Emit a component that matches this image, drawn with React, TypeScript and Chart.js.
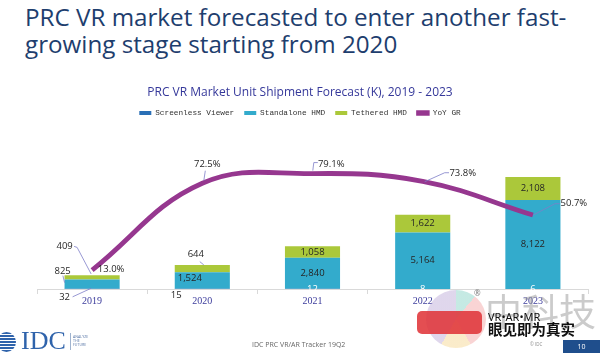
import React, { useEffect, useRef } from "react";
import { Chart, registerables } from "chart.js";
Chart.register(...registerables);

// ---- data ----
const years = ["2019", "2020", "2021", "2022", "2023"];
const screenlessViewer = [32, 15, 12, 8, 6];
const standaloneHMD = [825, 1524, 2840, 5164, 8122];
const tetheredHMD = [409, 644, 1058, 1622, 2108];
const yoyGrowth = [13.0, 72.5, 79.1, 73.8, 50.7];

const seriesNames = ["Screenless Viewer", "Standalone HMD", "Tethered HMD", "YoY GR"];
const seriesColors = ["#2a6fb6", "#33abcc", "#abc83a", "#96378f"];

// label callouts (offsets relative to segment centre / line point)
type Callout = { dx: number; dy: number; lead?: number[][] };
const barCallouts: Record<string, Callout> = {
  "0-0": { dx: -27.5, dy: 8.2, lead: [[-19.5, 8], [-1, -0.5]] },
  "0-1": { dx: -26, dy: 6 },
  "1-0": { dx: -29.5, dy: -12.5, lead: [[-29.2, -8.5], [-27.5, -1.5]] },
  "1-1": { dx: -12.5, dy: -2.6 },
  "2-0": { dx: -27.5, dy: -30.7, lead: [[-18, -31], [-15, -30], [-1, -3.5]] },
  "2-1": { dx: -6.5, dy: -14.7, lead: [[-2.5, -7], [1.5, -3.7]] },
};
const lineCallouts: Callout[] = [
  { dx: 19, dy: -0.5 },
  { dx: 5, dy: -19, lead: [[3, -12.5], [1.5, -2.5]] },
  { dx: 18.7, dy: -9.6, lead: [[5.3, -11], [1.3, -11], [0.3, -3]] },
  { dx: 40, dy: -8.3, lead: [[26.3, -8.6], [22, -8.6], [2, 0.4]] },
  { dx: 41, dy: -11.3, lead: [[27, -11.3], [22, -11.3], [0.3, 0]] },
];

const LABEL_FONT = '9.5px "Open Sans"';
const LEAD_COLOR = "#7d7dc8";

function drawLead(ctx: CanvasRenderingContext2D, x: number, y: number, pts?: number[][]) {
  if (!pts) return;
  ctx.save();
  ctx.strokeStyle = LEAD_COLOR;
  ctx.lineWidth = 0.8;
  ctx.beginPath();
  pts.forEach((p, i) => (i === 0 ? ctx.moveTo(x + p[0], y + p[1]) : ctx.lineTo(x + p[0], y + p[1])));
  ctx.stroke();
  ctx.restore();
}

const labelsPlugin = {
  id: "valueLabels",
  afterDatasetsDraw(chart: any) {
    const ctx: CanvasRenderingContext2D = chart.ctx;
    ctx.save();
    ctx.font = LABEL_FONT;
    ctx.textAlign = "center";
    ctx.textBaseline = "middle";
    for (let d = 0; d < 3; d++) {
      const meta = chart.getDatasetMeta(d);
      const values = chart.data.datasets[d].data as number[];
      meta.data.forEach((el: any, i: number) => {
        const cx = el.x;
        const cy = (el.y + el.base) / 2;
        const text = values[i].toLocaleString("en-US");
        const co = barCallouts[`${d}-${i}`];
        if (co) {
          drawLead(ctx, cx, cy, co.lead);
          ctx.fillStyle = "#262626";
          ctx.fillText(text, cx + co.dx, cy + co.dy);
        } else {
          ctx.fillStyle = d === 0 ? "#ffffff" : "#262626";
          ctx.fillText(text, cx, cy);
        }
      });
    }
    const lm = chart.getDatasetMeta(3);
    lm.data.forEach((el: any, i: number) => {
      const co = lineCallouts[i];
      drawLead(ctx, el.x, el.y, co.lead);
      ctx.fillStyle = "#262626";
      ctx.fillText(yoyGrowth[i].toFixed(1) + "%", el.x + co.dx, el.y + co.dy);
    });
    ctx.restore();
  },
};

export default function App() {
  const ref = useRef<HTMLCanvasElement>(null);
  useEffect(() => {
    const chart = new Chart(ref.current!, {
      type: "bar",
      data: {
        labels: years,
        datasets: [
          { label: seriesNames[0], data: screenlessViewer, backgroundColor: seriesColors[0], borderWidth: 0 },
          { label: seriesNames[1], data: standaloneHMD, backgroundColor: seriesColors[1], borderWidth: 0 },
          { label: seriesNames[2], data: tetheredHMD, backgroundColor: seriesColors[2], borderWidth: 0 },
          {
            type: "line",
            label: seriesNames[3],
            data: yoyGrowth,
            yAxisID: "y1",
            borderColor: seriesColors[3],
            backgroundColor: seriesColors[3],
            borderWidth: 4.8,
            pointRadius: 0,
            tension: 0.4,
            order: -1,
          } as any,
        ],
      },
      options: {
        animation: false,
        responsive: true,
        maintainAspectRatio: false,
        layout: { padding: { top: 83, left: 12, right: 12, bottom: 44 } },
        datasets: { bar: { barPercentage: 1, categoryPercentage: 0.5 } },
        plugins: {
          tooltip: { enabled: false },
          title: {
            display: true,
            text: "PRC VR Market Unit Shipment Forecast (K), 2019 - 2023",
            color: "#35389a",
            font: { family: "Open Sans", size: 12, weight: "normal", lineHeight: 1 },
            padding: { top: 4, bottom: 0 },
          },
          legend: {
            display: true,
            position: "top",
            labels: {
              font: { family: "Liberation Mono", size: 7.75 },
              color: "#333333",
              boxWidth: 12,
              boxHeight: 4,
              padding: 10,
              sort: (a: any, b: any) => a.datasetIndex - b.datasetIndex,
              generateLabels: (c: any) =>
                (Chart.defaults.plugins.legend.labels as any).generateLabels(c).map((it: any) => ({
                  ...it,
                  fillStyle: seriesColors[it.datasetIndex],
                  strokeStyle: seriesColors[it.datasetIndex],
                  lineWidth: it.datasetIndex === 3 ? 1.5 : 0,
                })),
            },
          },
        },
        scales: {
          x: {
            stacked: true,
            grid: { display: true, drawOnChartArea: false, tickLength: 5, color: "#d9d9d9", offset: true },
            border: { color: "#d9d9d9", width: 1 },
            ticks: { font: { family: "Liberation Serif", size: 10 }, color: "#3c3c9c", padding: 1 },
            afterFit: (s: any) => {
              s.height = 20;
            },
          },
          y: {
            stacked: true,
            min: 0,
            max: 14828,
            display: true,
            grid: { display: false },
            border: { display: false },
            ticks: { display: false },
            afterFit: (s: any) => {
              s.width = 25;
            },
          },
          y1: { position: "right", min: 0, max: 111.2, display: false, grid: { display: false } },
        },
      },
      plugins: [labelsPlugin],
    } as any);
    return () => chart.destroy();
  }, []);

  const abs = (o: React.CSSProperties): React.CSSProperties => ({ position: "absolute", whiteSpace: "nowrap", ...o });

  return (
    <div style={{ position: "fixed", left: 0, top: 0, width: 600, height: 353, background: "#ffffff", overflow: "hidden" }}>
      <div
        style={abs({
          left: 25,
          top: 3,
          fontFamily: '"Open Sans"',
          fontSize: 24.2,
          lineHeight: "27px",
          color: "#1e3e6e",
        })}
      >
        PRC VR market forecasted to enter another fast-
        <br />
        growing stage starting from 2020
      </div>
      <div style={abs({ left: 0, top: 0, width: 600, height: 353 })}>
        <canvas ref={ref} />
      </div>
      {/* footer */}
      <div
        style={abs({
          left: -3,
          top: 332,
          width: 19,
          height: 20,
          borderRadius: "50%",
          background: "repeating-linear-gradient(to bottom, #2f63ab 0px, #2f63ab 1.6px, #ffffff 1.6px, #ffffff 3px)",
        })}
      />
      <div style={abs({ left: 21, top: 328, fontFamily: '"Liberation Serif"', fontSize: 26, lineHeight: "26px", color: "#2f63ab" })}>IDC</div>
      <div style={abs({ left: 70, top: 333, width: 1, height: 17, background: "#9fb3cf" })} />
      <div style={abs({ left: 73, top: 335, fontFamily: '"Open Sans"', fontSize: 3.6, lineHeight: "4px", color: "#5a78a8" })}>
        ANALYZE
        <br />
        THE
        <br />
        FUTURE
      </div>
      <div style={abs({ left: 252, top: 340, fontFamily: '"Open Sans"', fontSize: 7, lineHeight: "10px", color: "#666666" })}>
        IDC PRC VR/AR Tracker 19Q2
      </div>
      {/* watermark */}
      <div
        style={abs({
          left: 426,
          top: 290,
          width: 60,
          height: 58,
          borderRadius: "50%",
          opacity: 0.45,
          background: "conic-gradient(#7fd0c2 -60deg 40deg, #f2a0a0 40deg 150deg, #f5d48a 150deg 210deg, #b9a6d6 210deg 300deg)",
        })}
      />
      <div style={abs({ left: 417, top: 311, width: 65, height: 23, borderRadius: 5, background: "#e0363a", opacity: 0.88 })} />
      <div style={abs({ left: 474, top: 289, fontFamily: '"Noto Sans"', fontSize: 8, lineHeight: "8px", color: "#888888" })}>®</div>
      <div
        style={abs({
          left: 485,
          top: 284,
          fontFamily: '"Noto Sans CJK SC"',
          fontSize: 37,
          lineHeight: "52px",
          color: "rgba(140,140,140,0.45)",
        })}
      >
        中科技
      </div>
      <div style={abs({ left: 488, top: 310, fontFamily: '"Noto Sans"', fontSize: 11, lineHeight: "14px", color: "#111111" })}>VR•AR•MR</div>
      <div
        style={abs({
          left: 488,
          top: 320,
          fontFamily: '"Noto Sans CJK SC"',
          fontSize: 14.5,
          fontWeight: 700,
          lineHeight: "18px",
          color: "#111111",
        })}
      >
        眼见即为真实
      </div>
      <div style={abs({ left: 530, top: 341, fontFamily: '"Open Sans"', fontSize: 4.5, lineHeight: "6px", color: "#8a8a8a" })}>© IDC</div>
      <div
        style={abs({
          left: 563,
          top: 340,
          width: 37,
          height: 13,
          background: "#1f4e8c",
          color: "#ffffff",
          fontFamily: '"Open Sans"',
          fontSize: 7,
          lineHeight: "13px",
          textAlign: "center",
        })}
      >
        10
      </div>
    </div>
  );
}
